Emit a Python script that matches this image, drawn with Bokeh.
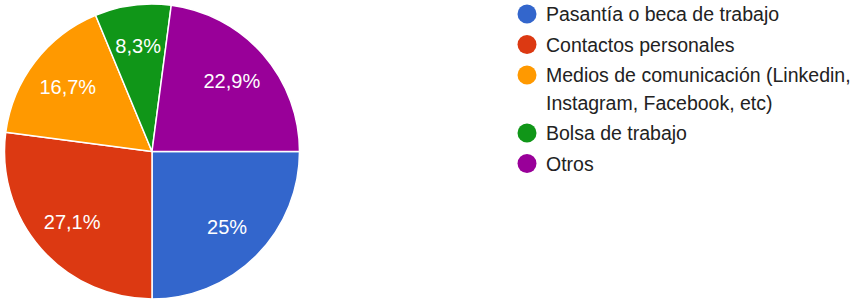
import math
from bokeh.plotting import figure
from bokeh.models import Range1d, ColumnDataSource
from bokeh.core.properties import value
from bokeh.embed import file_html
from bokeh.resources import INLINE

# ---- data ----
categories = [
    "Pasantía o beca de trabajo",
    "Contactos personales",
    "Medios de comunicación (Linkedin,\nInstagram, Facebook, etc)",
    "Bolsa de trabajo",
    "Otros",
]
counts = [12, 13, 8, 4, 11]
pct_labels = ["25%", "27,1%", "16,7%", "8,3%", "22,9%"]
colors = ["#3366cc", "#dc3912", "#ff9900", "#109618", "#990099"]

# ---- layout (picture pixel coordinates) ----
W, H = 854, 299
CX, CY, R = 151.5, 151.0, 147.5   # y measured downward
LABEL_FRAC = 0.72
FONT = "Liberation Sans"

def py(v):
    return H - v  # downward y -> data y (up)

p = figure(width=W, height=H, output_backend="svg", toolbar_location=None,
           x_range=Range1d(0, W), y_range=Range1d(0, H),
           min_border=0)
p.axis.visible = False
p.grid.visible = False
p.outline_line_color = None
p.background_fill_color = "white"
p.border_fill_color = "white"

total = float(sum(counts))
start0 = 0.0  # pie starts at 3 o'clock, going clockwise
starts, ends, lx, ly = [], [], [], []
cum = 0.0
for c in counts:
    a0 = start0 - 2 * math.pi * cum / total
    cum += c
    a1 = start0 - 2 * math.pi * cum / total
    starts.append(a0)
    ends.append(a1)
    mid = (a0 + a1) / 2
    lx.append(CX + LABEL_FRAC * R * math.cos(mid))
    ly.append(py(CY) + LABEL_FRAC * R * math.sin(mid))

src = ColumnDataSource(dict(start=starts, end=ends, color=colors,
                            lx=lx, ly=ly, lab=pct_labels))
p.wedge(x=CX, y=py(CY), radius=R, start_angle="start", end_angle="end",
        direction="clock", fill_color="color", line_color="white",
        line_width=1.5, source=src)
p.text(x="lx", y="ly", text="lab", source=src, text_color="white",
       text_font=value(FONT), text_font_size="20px", text_align="center",
       text_baseline="middle")

# ---- legend ----
DOT_X, TXT_X = 526.5, 545.5
TOP_Y = 13.5
LINE_H, ITEM_GAP = 27.5, 3.0
dot_y, tx, ty, tt = [], [], [], []
y = TOP_Y
for cat in categories:
    lines = cat.split("\n")
    dot_y.append(py(y))
    for ln in lines:
        tx.append(TXT_X)
        ty.append(py(y))
        tt.append(ln)
        y += LINE_H
    y += ITEM_GAP

p.scatter(x=[DOT_X] * len(dot_y), y=dot_y, size=19, marker="circle",
          fill_color=colors, line_color=None)
p.text(x=tx, y=ty, text=tt, text_color="#222222", text_font=value(FONT),
       text_font_size="19.5px", text_align="left", text_baseline="middle")

open("out.html", "w").write(file_html(p, INLINE))
